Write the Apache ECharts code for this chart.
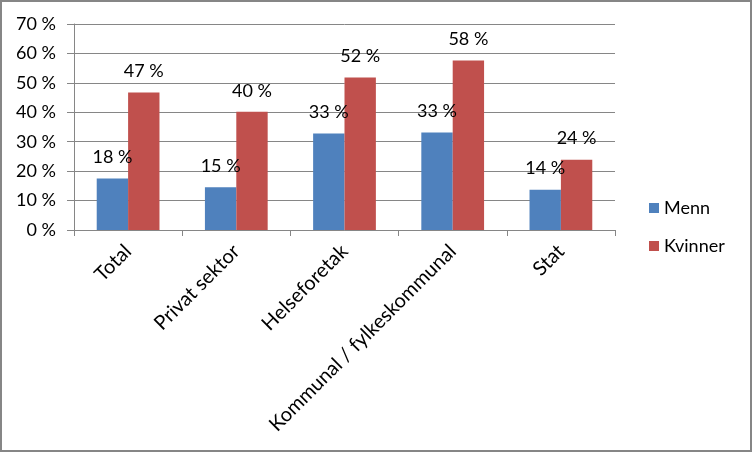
<!DOCTYPE html>
<html>
<head>
<meta charset="utf-8">
<script src="https://cdn.jsdelivr.net/npm/echarts@6/dist/echarts.min.js"></script>
<style>
  html, body { margin: 0; padding: 0; background: #fff; }
  #chart { width: 748px; height: 448px; border: 2px solid #868686; }
</style>
</head>
<body>
<div id="chart"></div>
<script>
const categories = ['Total', 'Privat sektor', 'Helseforetak', 'Kommunal / fylkeskommunal', 'Stat'];
const menn = [17.5, 14.5, 32.8, 33.1, 13.7];
const kvinner = [46.7, 40.2, 51.8, 57.6, 23.9];
const yTicks = [0, 10, 20, 30, 40, 50, 60, 70];

const font = 'Lato, "Open Sans", sans-serif';
const gray = '#868686';

const chart = echarts.init(document.getElementById('chart'));
const labelOpt = {
  show: true,
  position: 'top',
  distance: 12,
  color: '#000',
  fontFamily: font,
  fontSize: 18,
  formatter: p => Math.round(p.value) + ' %'
};
chart.setOption({
  animation: false,
  textStyle: { fontFamily: font },
  grid: { left: 72, right: 135, top: 22, bottom: 220, containLabel: false },
  legend: {
    orient: 'vertical',
    left: 647,
    top: 197,
    padding: 0,
    itemWidth: 10,
    itemHeight: 10,
    itemGap: 20,
    icon: 'rect',
    textStyle: { color: '#000', fontSize: 18, fontFamily: font }
  },
  xAxis: {
    type: 'category',
    data: categories,
    axisLine: { lineStyle: { color: gray } },
    axisTick: { show: true, length: 6, lineStyle: { color: gray } },
    axisLabel: { rotate: 45, color: '#000', fontSize: 20, fontFamily: font, margin: 18, interval: 0 }
  },
  yAxis: {
    type: 'value',
    min: yTicks[0],
    max: yTicks[yTicks.length - 1],
    interval: 10,
    axisLine: { show: true, lineStyle: { color: gray } },
    axisTick: { show: true, length: 7, lineStyle: { color: gray } },
    splitLine: { lineStyle: { color: gray } },
    axisLabel: { color: '#000', fontSize: 18, fontFamily: font, margin: 18, formatter: v => v + ' %' }
  },
  series: [
    {
      name: 'Menn',
      type: 'bar',
      data: menn,
      barGap: '0%',
      barCategoryGap: '42%',
      itemStyle: { color: '#4f81bd' },
      label: labelOpt
    },
    {
      name: 'Kvinner',
      type: 'bar',
      data: kvinner,
      itemStyle: { color: '#c0504d' },
      label: labelOpt
    }
  ]
});
</script>
</body>
</html>
